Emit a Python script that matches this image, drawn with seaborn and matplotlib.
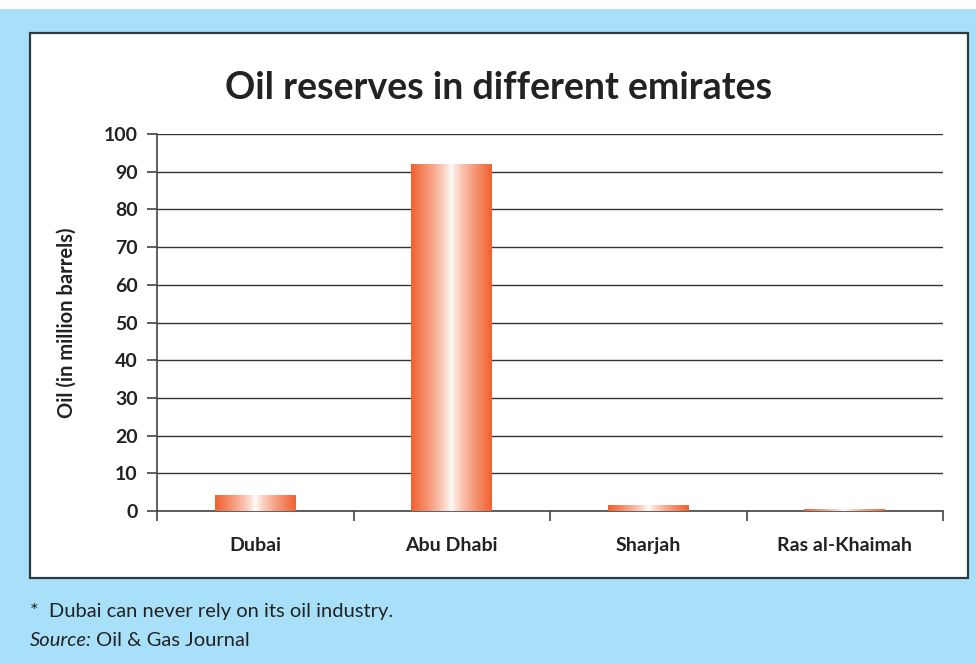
import numpy as np
import pandas as pd
import matplotlib
matplotlib.use("Agg")
import matplotlib.pyplot as plt
from matplotlib.patches import Rectangle
from matplotlib.colors import to_rgb
import seaborn as sns

# data
emirates = ["Dubai", "Abu Dhabi", "Sharjah", "Ras al-Khaimah"]
reserves = [4.2, 92, 1.5, 0.4]
yticks = [0, 10, 20, 30, 40, 50, 60, 70, 80, 90, 100]

df = pd.DataFrame({"emirate": emirates, "reserves": reserves})

sns.set_style("white")
plt.rcParams["font.family"] = ["Lato", "DejaVu Sans"]

blue = "#a8e0fa"
orange = "#f1622f"
dark = "#222222"

fig = plt.figure(figsize=(9.76, 6.63), dpi=100)
fig.patch.set_facecolor(blue)

# white strip on top and white panel with border
fig.add_artist(Rectangle((0, 1 - 9 / 663), 1, 9 / 663, transform=fig.transFigure,
                         facecolor="white", edgecolor="none", zorder=0))
fig.add_artist(Rectangle((30 / 976, 1 - 578 / 663), 938 / 976, 545 / 663,
                         transform=fig.transFigure, facecolor="white",
                         edgecolor="#2b3a3f", linewidth=1.6, zorder=0))

ax = fig.add_axes([157 / 976, 1 - 511 / 663, 786 / 976, 377 / 663])
ax.set_facecolor("none")

sns.barplot(data=df, x="emirate", y="reserves", color=orange, width=0.41,
            saturation=1, ax=ax, zorder=3)

# horizontal gradient orange -> white -> orange inside each bar
t = np.linspace(-1, 1, 256)
v = np.abs(t) ** 0.75
o = np.array(to_rgb(orange))
w = np.array([1.0, 1.0, 1.0])
grad = (w[None, :] * (1 - v[:, None]) + o[None, :] * v[:, None])[None, :, :]
for p in list(ax.patches):
    x0, y0 = p.get_x(), p.get_y()
    bw, bh = p.get_width(), p.get_height()
    p.set_facecolor("none")
    p.set_edgecolor("none")
    im = ax.imshow(grad, extent=[x0, x0 + bw, y0, y0 + bh], aspect="auto",
                   interpolation="bilinear", zorder=3)
    im.set_clip_path(p)

ax.set_xlim(-0.5, 3.5)
ax.set_ylim(0, 100)
ax.set_yticks(yticks)

ax.yaxis.grid(True, color="#333333", linewidth=1)
ax.set_axisbelow(True)
for s in ["top", "right"]:
    ax.spines[s].set_visible(False)
for s in ["left", "bottom"]:
    ax.spines[s].set_color("#444444")
    ax.spines[s].set_linewidth(1.2)

ax.set_xticks([-0.5, 0.5, 1.5, 2.5, 3.5], minor=True)
ax.tick_params(axis="x", which="major", length=0, pad=19)
ax.tick_params(axis="x", which="minor", length=7, width=1.2, color="#444444",
               direction="out", bottom=True)
ax.tick_params(axis="y", length=7, width=1.2, color="#444444", direction="out",
               left=True, pad=7)
for lab in ax.get_xticklabels() + ax.get_yticklabels():
    lab.set_fontweight("bold")
    lab.set_fontsize(14)
    lab.set_color(dark)

ax.set_xlabel("")
ax.set_ylabel("Oil (in million barrels)", fontsize=14.5, fontweight="bold", color=dark)
ax.yaxis.set_label_coords(-0.102, 0.5)

fig.text(499 / 976, 1 - 88 / 663, "Oil reserves in different emirates",
         ha="center", va="center", fontsize=27, fontweight="bold", color=dark)

fig.text(30 / 976, 1 - 612 / 663, "*  Dubai can never rely on its oil industry.",
         ha="left", va="center", fontsize=14.5, color=dark)
src = fig.text(30 / 976, 1 - 641 / 663, "Source:", ha="left", va="center",
               fontsize=14.5, style="italic", color=dark)
ax.annotate("Oil & Gas Journal", xy=(1, 0.5), xycoords=src, xytext=(3, 0),
            textcoords="offset points", ha="left", va="center", fontsize=14.5,
            color=dark, annotation_clip=False)

plt.savefig("out.png", dpi=100, facecolor=fig.get_facecolor())
